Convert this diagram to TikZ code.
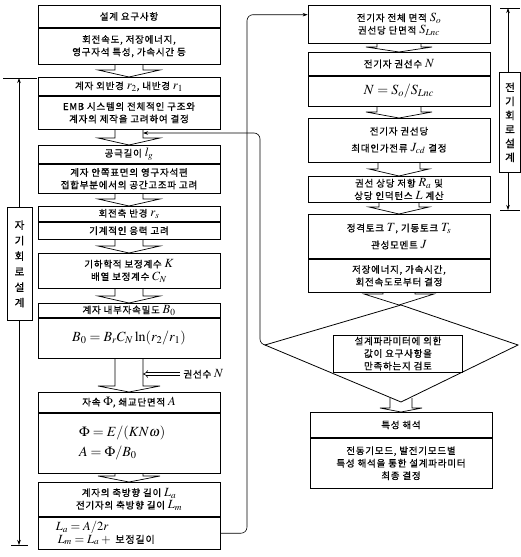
\documentclass[tikz,border=0pt]{standalone}
\usepackage{mathptmx}
\usepackage{fontspec}
\newfontfamily\kr[LetterSpace=8,FakeBold=0.7]{Noto Sans CJK KR}
\usetikzlibrary{arrows.meta,calc}
\newcommand\fatarr[5][7]{\draw[fat] let \p1=(#4), \p2=(#5) in (\x1-#2pt,\y1) -- (\x1-#2pt,\y2+#1pt) -- (\x1-#3pt,\y2+#1pt) -- (\x1,\y2) -- (\x1+#3pt,\y2+#1pt) -- (\x1+#2pt,\y2+#1pt) -- (\x1+#2pt,\y1);}
\newcommand\mm[1]{{\fontsize{12.5}{12}\selectfont$#1$}}
\newcommand\tightlines{\lineskiplimit=-10pt\relax}
\begin{document}
\begin{tikzpicture}[x=1pt,y=-1pt,
  sec/.style={draw, line width=0.8pt, minimum width=182pt, inner sep=0.5pt, align=center, anchor=north, font=\kr\fontsize{9.5}{12.5}\selectfont},
  eqs/.style={sec, font=\fontsize{14}{17}\selectfont},
  fat/.style={draw, line width=0.7pt},
  conn/.style={draw, line width=0.6pt, rounded corners=6pt},
  tip/.style={-{Stealth[length=5pt,width=3.5pt]}},
  lbl/.style={draw, line width=0.8pt, inner sep=0.5pt, align=center, anchor=north, font=\kr\fontsize{10.5}{15.5}\selectfont},
  tick/.style={draw, line width=0.7pt}
]
\useasboundingbox (0,0) rectangle (520,557);
% ---------------- left column ----------------
\node[sec, minimum height=22] (h1) at (129,5) {설계 요구사항};
\node[sec, minimum height=36] (b1) at (h1.south) {회전속도, 저장에너지,\\영구자석 특성, 가속시간 등};
\node[sec, minimum height=18] (h2) at (129,77) {계자 외반경 \mm{r_2}, 내반경 \mm{r_1}};
\node[sec, minimum height=33] (b2) at (h2.south) {EMB 시스템의 전체적인 구조와\\계자의 제작을 고려하여 결정};
\node[sec, minimum height=18] (h3) at (129,145) {공극길이 \mm{l_g}};
\node[sec, minimum height=29] (b3) at (h3.south) {계자 안쪽표면의 영구자석편\\접합부분에서의 공간고조파 고려};
\node[sec, minimum height=15] (h4) at (129,206) {회전축 반경 \mm{r_s}};
\node[sec, minimum height=17] (b4) at (h4.south) {기계적인 응력 고려};
\node[sec, minimum height=35] (b5) at (129,253) {기하학적 보정계수 \mm{K}\\배열 보정계수 \mm{C_N}};
\node[sec, minimum height=14] (h6) at (129,303) {계자 내부자속밀도 \mm{B_0}};
\node[eqs, minimum height=40] (b6) at (h6.south) {$B_0 = B_r C_N \ln\!\left(r_2/r_1\right)$};
\node[sec, minimum height=20] (h7) at (129,392) {자속 \mm{\Phi}, 쇄교단면적 \mm{A}};
\node[eqs, minimum height=60, text width=100pt, align=left] (b7) at (h7.south) {$\Phi = E/(KN\omega)$\\[3pt]$A = \Phi/B_0$};
\node[sec, minimum height=34] (h8) at (129,482) {계자의 축방향 길이 \mm{L_a}\\전기자의 축방향 길이 \mm{L_m}};
\node[sec, minimum height=32] (b8) at (h8.south) {};
\node[anchor=west, inner sep=0pt, align=left, font=\kr\fontsize{10}{12.5}\selectfont\tightlines] (b8t) at ($(b8.west)+(18,0)$) {\mm{L_a = A/2r}\\\hspace*{2pt}\mm{L_m = L_a +{}} 보정길이};
\fatarr{14}{31}{b1.south}{h2.north}
\fatarr{14}{31}{b2.south}{h3.north}
\fatarr{14}{31}{b3.south}{h4.north}
\fatarr{14}{31}{b4.south}{b5.north}
\fatarr{14}{31}{b5.south}{h6.north}
\fatarr[6]{14}{31}{b6.south}{h7.north}
\fatarr[6]{14}{31}{b7.south}{h8.north}
% winding-number input
\node[anchor=west, font=\kr\fontsize{9.5}{11}\selectfont] (wn) at (180,374) {권선수 \mm{N}};
\coordinate (nin) at (143,374);
\draw[double, double distance=2pt, line width=0.6pt, -{Implies}] (wn.west) -- (nin);
% left label and bracket
\node[lbl, minimum width=25, minimum height=113] (ml) at (19.5,207) {자\\기\\회\\로\\설\\계};
\coordinate (lbt) at (19,78);
\coordinate (lbb) at (19,545);
\draw[line width=0.6pt, tip] (lbt |- ml.north) -- (lbt);
\draw[line width=0.6pt, tip] (lbb |- ml.south) -- (lbb);
\draw[tick] (3,78) -- (37,78);
\draw[tick] (11,545) -- (28,545);
% ---------------- right column ----------------
\node[sec, minimum height=38] (r1) at (399,5) {전기자 전체 면적 \mm{S_o}\\권선당 단면적 \mm{S_{Lnc}}};
\node[sec, minimum height=23] (r2h) at (399,52) {전기자 권선수 \mm{N}};
\node[eqs, minimum height=30] (r2b) at (r2h.south) {$N = S_o/S_{Lnc}$};
\node[sec, minimum height=44, font=\kr\fontsize{9.5}{17}\selectfont] (r3) at (399,118) {전기자 권선당\\최대인가전류 \mm{J_{cd}} 결정};
\node[sec, minimum height=26] (r4) at (399,176) {권선 상당 저항 \mm{R_a} 및\\상당 인덕턴스 \mm{L} 계산};
\node[sec, minimum height=44, font=\kr\fontsize{9.5}{17}\selectfont] (r5h) at (399,214) {정격토크 \mm{T}, 기동토크 \mm{T_s}\\관성모멘트 \mm{J}};
\node[sec, minimum height=33] (r5b) at (r5h.south) {저장에너지, 가속시간,\\회전속도로부터 결정};
% decision diamond
\coordinate (dt) at (401,305);
\coordinate (dr) at (518,345);
\coordinate (db) at (401,402);
\coordinate (dl) at (265,345);
\draw[line width=0.8pt] (dt) -- (dr) -- (db) -- (dl) -- cycle;
\node[sec, minimum width=129, minimum height=37, anchor=center] (dq) at (398,353.5) {설계파라미터에 의한\\값이 요구사항을\\만족하는지 검토};
\node[sec, minimum height=25] (r6h) at (401,412) {특성 해석};
\node[sec, minimum height=50] (r6b) at (r6h.south) {전동기모드, 발전기모드별\\특성 해석을 통한 설계파라미터\\최종 결정};
\fatarr[5]{22}{33}{r1.south}{r2h.north}
\fatarr[6]{22}{33}{r2b.south}{r3.north}
\fatarr[7]{21}{30}{r3.south}{r4.north}
\fatarr[7]{20}{30}{r4.south}{r5h.north}
\fatarr[11]{16}{35}{r5b.south}{dt}
\coordinate (dstem) at (401,398);
\fatarr[4]{11}{21}{dstem}{r6h.north}
% right label and bracket
\node[lbl, minimum width=21, minimum height=100, font=\kr\fontsize{10.5}{14}\selectfont] (el) at (510,72) {전\\기\\회\\로\\설\\계};
\coordinate (ebt) at (508,8);
\coordinate (ebb) at (508,210);
\draw[line width=0.6pt, tip] (ebt |- el.north) -- (ebt);
\draw[line width=0.6pt, tip] (ebb |- el.south) -- (ebb);
\draw[tick] (500,8) -- (520,8);
\draw[tick] (500,210) -- (520,210);
% ---------------- connectors ----------------
\coordinate (r1in) at ($(r1.north west)!0.25!(r1.south west)$);
\coordinate (up) at (247,0 |- r1in);
\draw[conn, tip] (b8.east) -| (up) -- (r1in);
\coordinate (fbin) at (143,133);
\coordinate (fbc) at (260,133);
\draw[conn, tip] (dl) -| (fbc) -- (fbin);
\end{tikzpicture}
\end{document}
